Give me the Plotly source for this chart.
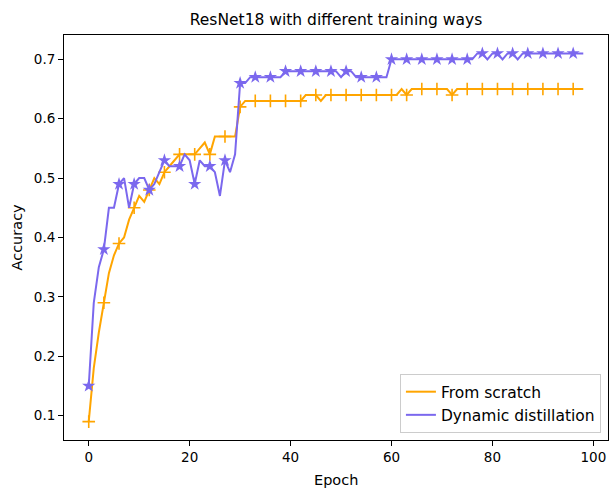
import plotly.graph_objects as go

epochs = list(range(99))

from_scratch = (
    [0.09, 0.18, 0.24, 0.29, 0.34, 0.37, 0.39, 0.40, 0.43, 0.45,
     0.47, 0.46, 0.48, 0.50, 0.49, 0.51, 0.52, 0.53, 0.54, 0.54,
     0.54, 0.54, 0.55, 0.56, 0.54]
    + [0.57] * 5
    + [0.62]
    + [0.63] * 12
    + [0.64] * 3
    + [0.63]
    + [0.64] * 15
    + [0.65, 0.64]
    + [0.65] * 8
    + [0.64]
    + [0.65] * 26
)

dynamic_distillation = (
    [0.15, 0.29, 0.35, 0.38, 0.45, 0.45, 0.49, 0.50, 0.45, 0.49,
     0.50, 0.50, 0.48, 0.49, 0.51, 0.53, 0.52, 0.52, 0.52, 0.54,
     0.53, 0.49, 0.53, 0.52, 0.52, 0.51, 0.47, 0.53, 0.51, 0.54,
     0.66, 0.66]
    + [0.67] * 7
    + [0.68] * 11
    + [0.67, 0.68, 0.68]
    + [0.67] * 7
    + [0.70] * 17
    + [0.71, 0.71, 0.70, 0.71, 0.71, 0.70, 0.71, 0.71, 0.70]
    + [0.71] * 13
)

x_ticks = [0, 20, 40, 60, 80, 100]
y_ticks = [0.1, 0.2, 0.3, 0.4, 0.5, 0.6, 0.7]

ORANGE = "#FFA500"
BLUE = "#7B68EE"
FONT = "DejaVu Sans"

fig = go.Figure()
fig.add_trace(go.Scatter(x=epochs, y=from_scratch, mode="lines", name="From scratch",
                         line=dict(color=ORANGE, width=2)))
fig.add_trace(go.Scatter(x=epochs[::3], y=from_scratch[::3], mode="markers", showlegend=False,
                         marker=dict(symbol="cross-thin", size=9, color=ORANGE,
                                     line=dict(color=ORANGE, width=1.6))))
fig.add_trace(go.Scatter(x=epochs, y=dynamic_distillation, mode="lines", name="Dynamic distillation",
                         line=dict(color=BLUE, width=2)))
fig.add_trace(go.Scatter(x=epochs[::3], y=dynamic_distillation[::3], mode="markers", showlegend=False,
                         marker=dict(symbol="star", size=10, color=BLUE, line=dict(width=0))))

axis_common = dict(showgrid=False, zeroline=False, showline=True, linecolor="black", linewidth=1,
                   mirror=True, ticks="outside", ticklen=5, tickwidth=1, tickcolor="black",
                   tickfont=dict(family=FONT, size=13.5, color="black"))

fig.update_layout(
    width=610, height=489,
    margin=dict(l=64, r=2, t=35, b=49),
    paper_bgcolor="white", plot_bgcolor="white",
    font=dict(family=FONT, color="black"),
    title=dict(text="ResNet18 with different training ways", x=0.5, xref="paper",
               y=1 - 20 / 489, yanchor="middle", font=dict(family=FONT, size=15.5, color="black")),
    xaxis=dict(range=[-4.9, 102.9], tickvals=x_ticks, **axis_common),
    yaxis=dict(range=[0.059, 0.741], tickvals=y_ticks, tickformat=".1f", **axis_common),
    legend=dict(x=0.987, y=0.017, xanchor="right", yanchor="bottom",
                bgcolor="rgba(255,255,255,0.8)", bordercolor="#cccccc", borderwidth=1,
                font=dict(family=FONT, size=15.5, color="black"), tracegroupgap=0),
    showlegend=True,
    annotations=[
        dict(text="Epoch", xref="paper", yref="paper", x=0.5, y=0, yshift=-40,
             showarrow=False, xanchor="center", yanchor="middle",
             font=dict(family=FONT, size=14.5, color="black")),
        dict(text="Accuracy", xref="paper", yref="paper", x=0, y=0.5, xshift=-48,
             showarrow=False, textangle=-90, xanchor="center", yanchor="middle",
             font=dict(family=FONT, size=14.5, color="black")),
    ],
)

fig.write_html("out.html", config={"displayModeBar": False},
               post_script="document.body.style.margin='0';document.body.style.overflow='hidden';")
